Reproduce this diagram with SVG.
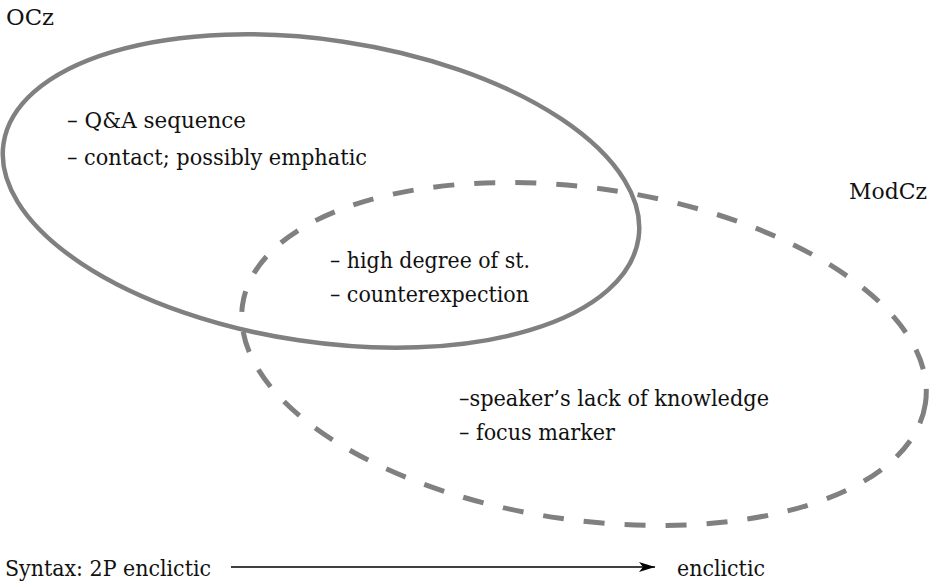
<svg xmlns="http://www.w3.org/2000/svg" width="936" height="587" viewBox="0 0 936 587">
  <defs>
    <style>
      text { font-family: 'DejaVu Serif', 'Liberation Serif', serif; font-size: 23px; fill: #111; }
      .solid { fill: none; stroke: #808080; stroke-width: 4.5; }
      .dash { fill: none; stroke: #808080; stroke-width: 5; stroke-dasharray: 21 20; }
      .arrow { stroke: #000; stroke-width: 1.5; fill: none; }
    </style>
    <marker id="ah" viewBox="0 0 16 10" refX="16" refY="5" markerWidth="16" markerHeight="10" markerUnits="userSpaceOnUse" orient="auto">
      <path d="M0,0 L16,5 L0,10 L4,5 Z" fill="#000"/>
    </marker>
  </defs>
  <rect width="936" height="587" fill="#fff"/>

  <g id="ocz">
    <ellipse class="solid" cx="321" cy="191" rx="321" ry="151" transform="rotate(8.5 321 191)"/>
    <text x="6" y="25" textLength="48" lengthAdjust="spacingAndGlyphs">OCz</text>
    <text x="67" y="128" textLength="179" lengthAdjust="spacingAndGlyphs">– Q&amp;A sequence</text>
    <text x="67" y="165" textLength="300" lengthAdjust="spacingAndGlyphs">– contact; possibly emphatic</text>
  </g>

  <g id="modcz">
    <ellipse class="dash" cx="584" cy="354" rx="345" ry="166" transform="rotate(8.2 584 354)"/>
    <text x="849" y="199" textLength="78" lengthAdjust="spacingAndGlyphs">ModCz</text>
    <text x="459" y="406" textLength="310" lengthAdjust="spacingAndGlyphs">–speaker’s lack of knowledge</text>
    <text x="459" y="440" textLength="156" lengthAdjust="spacingAndGlyphs">– focus marker</text>
  </g>

  <g id="overlap">
    <text x="330" y="268" textLength="200" lengthAdjust="spacingAndGlyphs">– high degree of st.</text>
    <text x="330" y="302" textLength="199" lengthAdjust="spacingAndGlyphs">– counterexpection</text>
  </g>

  <g id="syntax-start">
    <text x="5" y="576" textLength="206" lengthAdjust="spacingAndGlyphs">Syntax: 2P enclictic</text>
  </g>
  <g id="syntax-end">
    <text x="677" y="576" textLength="88" lengthAdjust="spacingAndGlyphs">enclictic</text>
  </g>

  <g id="connectors">
    <line class="arrow" x1="231" y1="567" x2="655" y2="567" marker-end="url(#ah)"/>
  </g>
</svg>
